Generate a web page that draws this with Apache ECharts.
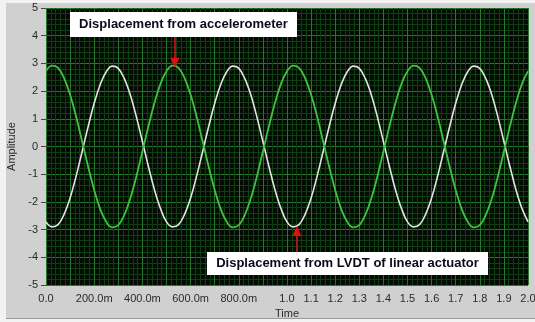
<!DOCTYPE html>
<html>
<head>
<meta charset="utf-8">
<script src="https://cdn.jsdelivr.net/npm/echarts@6/dist/echarts.min.js"></script>
<style>
html,body{margin:0;padding:0;background:#f2f2f2;}
#c{width:535px;height:322px;}
</style>
</head>
<body>
<div id="c"></div>
<script>
// sample step of both traces (s)
var timeStep = 0.025;
// Displacement from accelerometer (green trace)
var accelValues = [
 2.72, 2.92, 2.84, 2.47, 1.87, 1.08, 0.18, -0.73, -1.57, -2.26,
 -2.72, -2.92, -2.84, -2.47, -1.87, -1.08, -0.18, 0.73, 1.57, 2.26,
 2.72, 2.92, 2.84, 2.47, 1.87, 1.08, 0.18, -0.73, -1.57, -2.26,
 -2.72, -2.92, -2.84, -2.47, -1.87, -1.08, -0.18, 0.73, 1.57, 2.26,
 2.72, 2.92, 2.84, 2.47, 1.87, 1.08, 0.18, -0.73, -1.57, -2.26,
 -2.72, -2.92, -2.84, -2.47, -1.87, -1.08, -0.18, 0.73, 1.57, 2.26,
 2.72, 2.92, 2.84, 2.47, 1.87, 1.08, 0.18, -0.73, -1.57, -2.26,
 -2.72, -2.92, -2.84, -2.47, -1.87, -1.08, -0.18, 0.73, 1.57, 2.26,
 2.72
];
// Displacement from LVDT of linear actuator (white trace)
var lvdtValues = [
 -2.72, -2.9, -2.82, -2.45, -1.86, -1.07, -0.18, 0.72, 1.56, 2.24,
 2.7, 2.9, 2.82, 2.45, 1.86, 1.07, 0.18, -0.72, -1.56, -2.24,
 -2.72, -2.9, -2.82, -2.45, -1.86, -1.07, -0.18, 0.72, 1.56, 2.24,
 2.7, 2.9, 2.82, 2.45, 1.86, 1.07, 0.18, -0.72, -1.56, -2.24,
 -2.72, -2.9, -2.82, -2.45, -1.86, -1.07, -0.18, 0.72, 1.56, 2.24,
 2.7, 2.9, 2.82, 2.45, 1.86, 1.07, 0.18, -0.72, -1.56, -2.24,
 -2.72, -2.9, -2.82, -2.45, -1.86, -1.07, -0.18, 0.72, 1.56, 2.24,
 2.7, 2.9, 2.82, 2.45, 1.86, 1.07, 0.18, -0.72, -1.56, -2.24,
 -2.72
];
// x tick labels at every 0.1 s from 0.0 to 2.0
var xTickLabels = ['0.0','','200.0m','','400.0m','','600.0m','','800.0m','',
  '1.0','1.1','1.2','1.3','1.4','1.5','1.6','1.7','1.8','1.9','2.0'];
var yTickLabels = ['-5','-4','-3','-2','-1','0','1','2','3','4','5'];
// annotations
var accelNote = 'Displacement from accelerometer';
var lvdtNote = 'Displacement from LVDT of linear actuator';
var accelArrow = [[0.535, 3.95], [0.535, 3.02]];
var lvdtArrow = [[1.041, -3.81], [1.041, -3.05]];

function pairs(vals){ return vals.map(function(v,i){ return [i*timeStep, v]; }); }

var chart = echarts.init(document.getElementById('c'));
var axisFont = {color:'#2a2a2a', fontSize:11, fontFamily:'Liberation Sans, Arial, sans-serif'};
var noteFont = 'bold 13px "Liberation Sans", Arial, sans-serif';
chart.setOption({
  animation:false,
  backgroundColor:'#f2f2f2',
  graphic:[
    {type:'rect', shape:{x:6,y:3,width:529,height:316}, style:{fill:'#d0d0d0'}, z:-10, silent:true},
    {type:'rect', shape:{x:6,y:318,width:529,height:1}, style:{fill:'#9a9a9a'}, z:-9, silent:true},
    {type:'rect', shape:{x:70,y:12,width:227,height:25}, style:{fill:'#ffffff'}, z:100, zlevel:1},
    {type:'text', x:183.5, y:24.5, z:101, zlevel:1, style:{text:accelNote, fill:'#0a0a1a', font:noteFont, align:'center', verticalAlign:'middle'}},
    {type:'rect', shape:{x:207,y:252,width:281,height:23}, style:{fill:'#ffffff'}, z:100, zlevel:1},
    {type:'text', x:347.5, y:263.5, z:101, zlevel:1, style:{text:lvdtNote, fill:'#0a0a1a', font:noteFont, align:'center', verticalAlign:'middle'}}
  ],
  grid:{left:46, right:7, top:8, bottom:37, show:true, backgroundColor:'#020c03', borderWidth:0, outerBoundsMode:'none', containLabel:false},
  xAxis:{
    type:'value', min:0, max:2, interval:0.1,
    name:'Time', nameLocation:'middle', nameGap:21,
    nameTextStyle:axisFont,
    axisLine:{show:false},
    axisTick:{show:true, length:5, lineStyle:{color:'#444', width:1}},
    axisLabel:Object.assign({margin:8, showMinLabel:true, showMaxLabel:true, hideOverlap:false, formatter:function(v){ return xTickLabels[Math.round(v/0.1)] || ''; }}, axisFont),
    minorTick:{show:false, splitNumber:5},
    splitLine:{show:true, lineStyle:{color:'#24772b', width:1}},
    minorSplitLine:{show:true, lineStyle:{color:'#0f3e13', width:1}}
  },
  yAxis:{
    type:'value', min:-5, max:5, interval:1,
    name:'Amplitude', nameLocation:'middle', nameGap:25, nameRotate:90,
    nameTextStyle:axisFont,
    axisLine:{show:false},
    axisTick:{show:true, length:5, lineStyle:{color:'#444', width:1}},
    axisLabel:Object.assign({margin:8, formatter:function(v){ return yTickLabels[Math.round(v)+5]; }}, axisFont),
    minorTick:{show:false, splitNumber:5},
    splitLine:{show:true, lineStyle:{color:'#24772b', width:1}},
    minorSplitLine:{show:true, lineStyle:{color:'#0f3e13', width:1}}
  },
  series:[
    {type:'line', name:'LVDT', data:pairs(lvdtValues), smooth:0.4, showSymbol:false,
     lineStyle:{color:'#e4e4e4', width:1.6}, z:3},
    {type:'line', name:'Accelerometer', data:pairs(accelValues), smooth:0.4, showSymbol:false,
     lineStyle:{color:'#3fc23f', width:1.8}, z:4,
     markLine:{silent:true, symbol:['none','triangle'], symbolSize:[9,10], label:{show:false},
       lineStyle:{color:'#e01010', width:1.5, type:'solid'},
       data:[
         [{coord:accelArrow[0]},{coord:accelArrow[1]}],
         [{coord:lvdtArrow[0]},{coord:lvdtArrow[1]}]
       ]}
    }
  ]
});
</script>
</body>
</html>
